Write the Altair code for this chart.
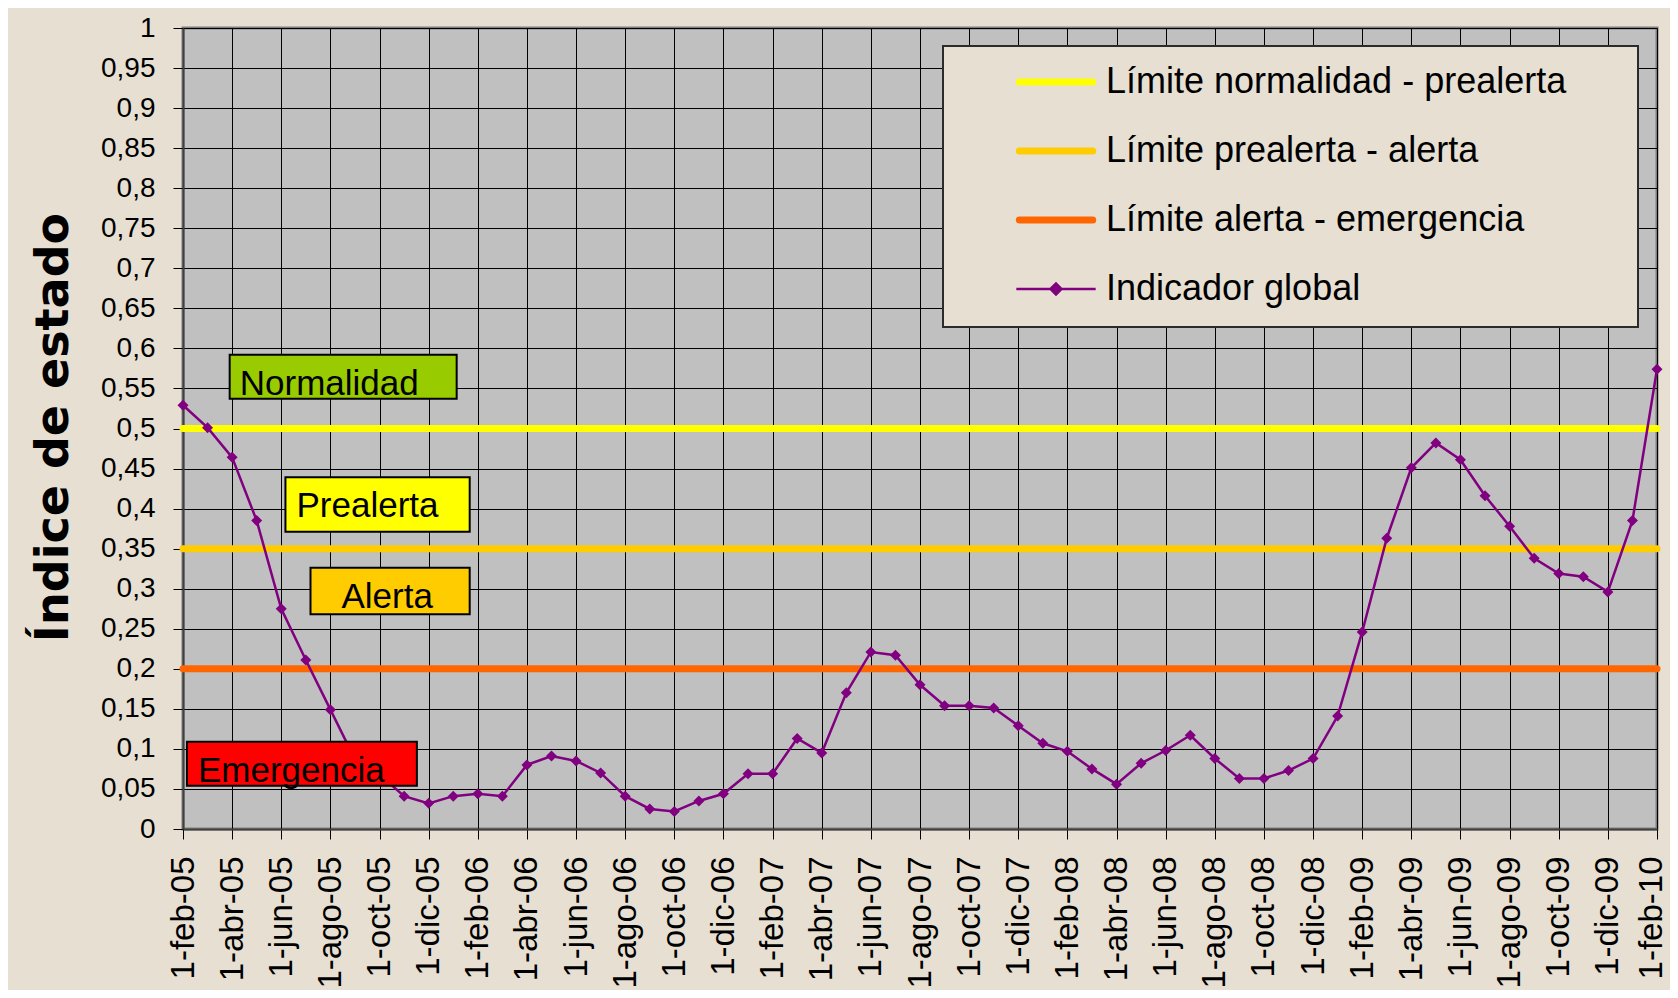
import altair as alt
import pandas as pd

# ---------------- data ----------------
anios = ["05", "06", "07", "08", "09", "10"]
meses = ["ene", "feb", "mar", "abr", "may", "jun", "jul", "ago", "sep", "oct", "nov", "dic"]
fechas = [f"1-{m}-{a}" for a in anios for m in meses][1:62]   # 1-feb-05 ... 1-feb-10

indicador = [
    0.529, 0.501, 0.464, 0.385, 0.275, 0.211, 0.149, 0.087, 0.068, 0.041, 0.032,
    0.041, 0.044, 0.041, 0.080, 0.091, 0.085, 0.070, 0.041, 0.025, 0.022, 0.035, 0.044,
    0.069, 0.069, 0.113, 0.095, 0.170, 0.221, 0.217, 0.180, 0.154, 0.154, 0.151, 0.129,
    0.107, 0.097, 0.075, 0.056, 0.082, 0.098, 0.117, 0.088, 0.063, 0.063, 0.073, 0.088,
    0.141, 0.246, 0.363, 0.451, 0.482, 0.461, 0.416, 0.378, 0.338, 0.319, 0.315, 0.296,
    0.385, 0.574,
]

umbral_nombres = ["Límite normalidad - prealerta", "Límite prealerta - alerta",
                  "Límite alerta - emergencia"]
umbral_valores = [0.5, 0.35, 0.2]
serie_nombres = umbral_nombres + ["Indicador global"]
serie_colores = ["#FFFF00", "#FFCC00", "#FF6600", "#800080"]

cajas = ["Normalidad", "Prealerta", "Alerta", "Emergencia"]
caja_colores = ["#99CC00", "#FFFF00", "#FFCC00", "#FF0000"]
caja_x0 = [1.90, 4.17, 5.19, 0.16]
caja_x1 = [11.14, 11.67, 11.67, 9.52]
caja_y0 = [0.537, 0.371, 0.268, 0.054]
caja_y1 = [0.592, 0.439, 0.326, 0.109]
texto_x = [2.31, 4.62, 6.45, 0.61]
texto_y = [0.542, 0.3895, 0.276, 0.0587]

x_ticks = list(range(0, 61, 2))
tick_labels = fechas[::2]
y_ticks = [round(i * 0.05, 2) for i in range(21)]

df = pd.DataFrame({"mes": list(range(len(indicador))), "fecha": fechas,
                   "valor": indicador, "serie": "Indicador global"})
df_umbral = pd.DataFrame({"serie": umbral_nombres, "valor": umbral_valores})
df_cajas = pd.DataFrame({"nombre": cajas, "color": caja_colores, "x0": caja_x0, "x1": caja_x1,
                         "y0": caja_y0, "y1": caja_y1, "tx": texto_x, "ty": texto_y})

# ---------------- styling ----------------
FONT = "Liberation Sans"
BG = "#E6DFD2"

label_expr = "[" + ",".join("'%s'" % s for s in tick_labels) + "][round(datum.value/2)]"

xscale = alt.Scale(domain=[0, 60], nice=False, zero=False)
yscale = alt.Scale(domain=[0, 1], nice=False, zero=False)

xaxis = alt.Axis(values=x_ticks, labelExpr=label_expr, labelAngle=270, labelFontSize=33,
                 title=None, grid=True, tickSize=10, labelPadding=17, labelOverlap=False,
                 labelFlush=False,
                 labelOffset={"condition": {"test": "datum.value >= 60", "value": -6},
                              "value": 0})
yaxis = alt.Axis(values=y_ticks, labelExpr="replace(format(datum.value, '.2~f'), '.', ',')",
                 labelFontSize=28, title="Índice de estado", titleFont="DejaVu Sans",
                 titleFontWeight="bold", titleFontSize=46, titleAngle=270, titleX=-116,
                 titleY=399, titleAlign="center", titleBaseline="alphabetic",
                 titleColor="#000000", grid=True, tickSize=10, labelPadding=18,
                 labelOverlap=False, labelFlush=False)

legend = alt.Legend(title=" ", titleOrient="right", titlePadding=52, titleFontSize=10,
                    orient="none", legendX=760, legendY=18, padding=20, fillColor=BG,
                    strokeColor="#2b2b2b", symbolType="stroke", symbolSize=5400,
                    symbolStrokeWidth=7, clipHeight=32, rowPadding=33, symbolOffset=75,
                    labelOffset=32, labelFontSize=36, labelFont=FONT, labelColor="#000000",
                    labelLimit=700)

color = alt.Color("serie:N", scale=alt.Scale(domain=serie_nombres, range=serie_colores),
                  legend=legend)

X = alt.X("mes:Q", scale=xscale, axis=xaxis)
Y = alt.Y("valor:Q", scale=yscale, axis=yaxis)

rules = alt.Chart(df_umbral).mark_rule(strokeWidth=7, strokeCap="round").encode(
    y=Y, color=color)
line = alt.Chart(df).mark_line(strokeWidth=2.5).encode(x=X, y=Y, color=color)
points = alt.Chart(df).mark_point(shape="diamond", filled=True, size=121, opacity=1,
                                  color="#800080").encode(x=X, y=Y)
rects = alt.Chart(df_cajas).mark_rect(stroke="#000000", strokeWidth=2).encode(
    x=alt.X("x0:Q", scale=xscale, axis=xaxis), x2="x1",
    y=alt.Y("y0:Q", scale=yscale, axis=yaxis), y2="y1",
    fill=alt.Fill("color:N", scale=None))
texts = alt.Chart(df_cajas).mark_text(align="left", baseline="alphabetic", fontSize=35,
                                      font=FONT, color="#000000").encode(
    x=alt.X("tx:Q", scale=xscale, axis=xaxis),
    y=alt.Y("ty:Q", scale=yscale, axis=yaxis),
    text="nombre:N")

chart = alt.layer(rules, line, points, rects, texts).properties(
    width=1474, height=801,
    autosize=alt.AutoSizeParams(type="none"),
    padding={"left": 175, "top": 20, "right": 13, "bottom": 161},
).configure(background=BG).configure_view(
    fill="#C0C0C0", stroke="#7f7f7f", strokeWidth=3
).configure_axis(
    gridColor="#000000", gridOpacity=1, gridWidth=1,
    domainColor="#404040", domainWidth=2,
    tickColor="#000000", tickWidth=1,
    labelFont=FONT, labelColor="#000000",
)

# per-entry legend symbols (thick threshold strokes, thin line with diamond)
leg_encode = {
    "symbols": {"update": {
        "shape": {"signal": "datum.value === 'Indicador global' ? "
                            "'M-1.08,0L1.08,0M-0.15,0L0,-0.15L0.15,0L0,0.15Z' : 'M-1,0L1,0'"},
        "strokeWidth": {"signal": "datum.value === 'Indicador global' ? 2.5 : 7"},
        "fill": {"signal": "datum.value === 'Indicador global' ? '#800080' : 'transparent'"},
        "strokeCap": {"signal": "datum.value === 'Indicador global' ? 'butt' : 'round'"},
    }},
    "legend": {"update": {"strokeWidth": {"value": 2}}},
}

try:
    _orig_to_dict = chart.to_dict

    def _to_dict_with_legend(*args, **kwargs):
        d = _orig_to_dict(*args, **kwargs)
        try:
            for lyr in d.get("layer", []):
                col = lyr.get("encoding", {}).get("color")
                if isinstance(col, dict) and isinstance(col.get("legend"), dict):
                    col["legend"]["encode"] = leg_encode
        except Exception:
            pass
        return d

    object.__setattr__(chart, "to_dict", _to_dict_with_legend)
except Exception:
    pass

chart.save("out.html", embed_options={"renderer": "svg", "actions": False})
